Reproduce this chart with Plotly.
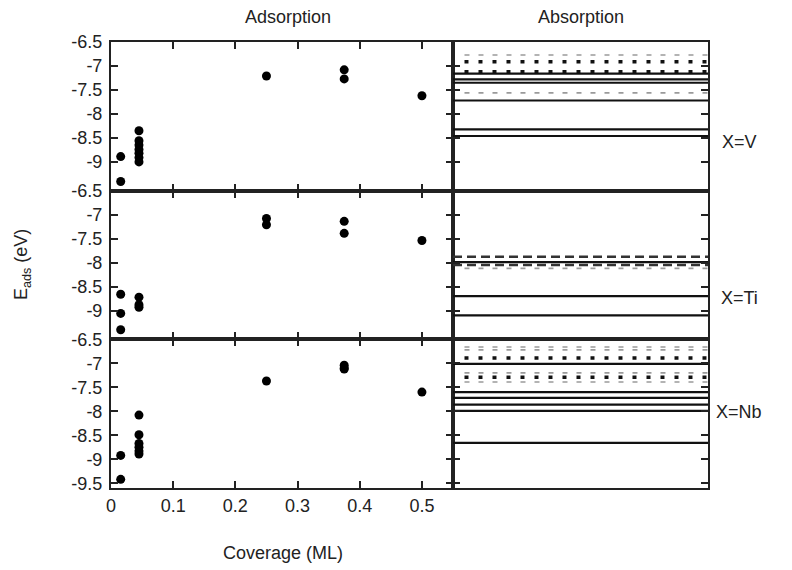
import plotly.graph_objects as go
from plotly.subplots import make_subplots

# ---------------- data ----------------
panel_labels = ["X=V", "X=Ti", "X=Nb"]
col_titles = ["Adsorption", "Absorption"]

# Adsorption: coverage (ML) and adsorption energy (eV)
cov_V = [0.0156, 0.0156, 0.045, 0.045, 0.045, 0.045, 0.045, 0.045, 0.045, 0.25, 0.375, 0.375, 0.5]
E_V = [-8.89, -9.41, -8.35, -8.56, -8.65, -8.74, -8.82, -8.91, -9.00, -7.21, -7.08, -7.27, -7.62]

cov_Ti = [0.0156, 0.0156, 0.0156, 0.045, 0.045, 0.045, 0.25, 0.25, 0.375, 0.375, 0.5]
E_Ti = [-8.66, -9.06, -9.40, -8.72, -8.88, -8.93, -7.08, -7.21, -7.14, -7.39, -7.54]

cov_Nb = [0.0156, 0.0156, 0.045, 0.045, 0.045, 0.045, 0.045, 0.045, 0.25, 0.375, 0.375, 0.375, 0.5]
E_Nb = [-8.92, -9.42, -8.08, -8.49, -8.67, -8.75, -8.83, -8.89, -7.37, -7.04, -7.10, -7.12, -7.60]

# Absorption energy levels (eV), grouped by line style
abs_solid_V = [-7.16, -7.28, -7.35, -7.72, -8.32, -8.46]
abs_dot_V = [-6.91, -7.12]
abs_grey_V = [-6.77, -7.56]

abs_solid_Ti = [-7.99, -8.70, -9.10]
abs_dash_Ti = [-7.88, -8.05]
abs_grey_Ti = [-8.12]

abs_solid_Nb = [-7.01, -7.60, -7.72, -7.86, -7.99, -8.66]
abs_dot_Nb = [-6.89, -7.29]
abs_grey_Nb = [-6.66, -6.72, -7.20, -7.39]

x_ticks = [0, 0.1, 0.2, 0.3, 0.4, 0.5]
x_ticktext = ["0", "0.1", "0.2", "0.3", "0.4", "0.5"]
y_ticks_upper = [-6.5, -7, -7.5, -8, -8.5, -9]
y_ticks_lower = [-6.5, -7, -7.5, -8, -8.5, -9, -9.5]
y_ticktext_upper = ["-6.5", "-7", "-7.5", "-8", "-8.5", "-9"]
y_ticktext_lower = ["-6.5", "-7", "-7.5", "-8", "-8.5", "-9", "-9.5"]

# ---------------- figure ----------------
fig = make_subplots(rows=3, cols=2, horizontal_spacing=0, vertical_spacing=0,
                    column_widths=[0.5729, 0.4271])

ads = [(cov_V, E_V), (cov_Ti, E_Ti), (cov_Nb, E_Nb)]
absorb = [
    dict(solid=abs_solid_V, dot=abs_dot_V, grey=abs_grey_V, dash=[]),
    dict(solid=abs_solid_Ti, dot=[], grey=abs_grey_Ti, dash=abs_dash_Ti),
    dict(solid=abs_solid_Nb, dot=abs_dot_Nb, grey=abs_grey_Nb, dash=[]),
]

for r, (cx, ey) in enumerate(ads, start=1):
    fig.add_trace(go.Scatter(x=cx, y=ey, mode="markers",
                             marker=dict(color="black", size=9),
                             showlegend=False, hoverinfo="skip"), row=r, col=1)

styles = {
    "grey": dict(color="#9a9a9a", width=1.6, dash="5px,9px"),
    "dot": dict(color="#111111", width=3.5, dash="4px,10px"),
    "dash": dict(color="#333333", width=2.5, dash="9px,5px"),
    "solid": dict(color="#111111", width=2.2),
}
for r, lv in enumerate(absorb, start=1):
    for key in ["grey", "dash", "solid", "dot"]:
        for e in lv[key]:
            xs = [0.045, 1.0] if key in ("dot", "grey") else [0, 1]
            fig.add_trace(go.Scatter(x=xs, y=[e, e], mode="lines",
                                     line=styles[key], showlegend=False,
                                     hoverinfo="skip"), row=r, col=2)

font_main = dict(family="Liberation Sans, Arial, sans-serif", size=18, color="#222222")

for r in range(1, 4):
    lower = (r == 3)
    yt = y_ticks_lower if lower else y_ticks_upper
    ytt = y_ticktext_lower if lower else y_ticktext_upper
    # left panel axes
    fig.update_xaxes(row=r, col=1, range=[0, 0.55], tickvals=x_ticks, ticktext=x_ticktext,
                     showticklabels=lower, ticks="inside", ticklen=7, tickwidth=2,
                     tickcolor="#222", showline=True, linecolor="#222", linewidth=2,
                     mirror="ticks", showgrid=False, zeroline=False, tickfont=font_main)
    fig.update_yaxes(row=r, col=1, range=[-9.6, -6.5], tickvals=yt, ticktext=ytt,
                     ticks="inside", ticklen=7, tickwidth=2, tickcolor="#222",
                     showline=True, linecolor="#222", linewidth=2, mirror="ticks",
                     showgrid=False, zeroline=False, tickfont=font_main,
                     ticklabelstandoff=3)
    # right panel axes
    fig.update_xaxes(row=r, col=2, range=[0, 1], showticklabels=False, ticks="",
                     showline=True, linecolor="#222", linewidth=2, mirror=True,
                     showgrid=False, zeroline=False)
    fig.update_yaxes(row=r, col=2, range=[-9.6, -6.5], tickvals=yt, showticklabels=False,
                     ticks="inside", ticklen=7, tickwidth=2, tickcolor="#222",
                     showline=True, linecolor="#222", linewidth=2, mirror="ticks",
                     showgrid=False, zeroline=False)

# page body has an 8px margin; plot area spans 111..708 x 42..488 in the window
annotations = [
    dict(x=(288 - 111) / 597, y=(488 - 17) / 446, text=col_titles[0]),
    dict(x=(581 - 111) / 597, y=(488 - 17) / 446, text=col_titles[1]),
    dict(x=(739 - 111) / 597, y=(488 - 142) / 446, text=panel_labels[0]),
    dict(x=(739 - 111) / 597, y=(488 - 298) / 446, text=panel_labels[1]),
    dict(x=(739 - 111) / 597, y=(488 - 412) / 446, text=panel_labels[2]),
    dict(x=(283 - 111) / 597, y=(488 - 553) / 446, text="Coverage (ML)"),
    dict(x=(22 - 111) / 597, y=(488 - 265) / 446, text="E<sub>ads</sub> (eV)", textangle=-90),
]
for a in annotations:
    a.update(xref="paper", yref="paper", showarrow=False, xanchor="center",
             yanchor="middle", font=font_main)

fig.update_layout(width=784, height=562, margin=dict(l=103, r=84, t=34, b=82),
                  plot_bgcolor="white", paper_bgcolor="white",
                  annotations=annotations, showlegend=False)

fig.write_html("out.html")
